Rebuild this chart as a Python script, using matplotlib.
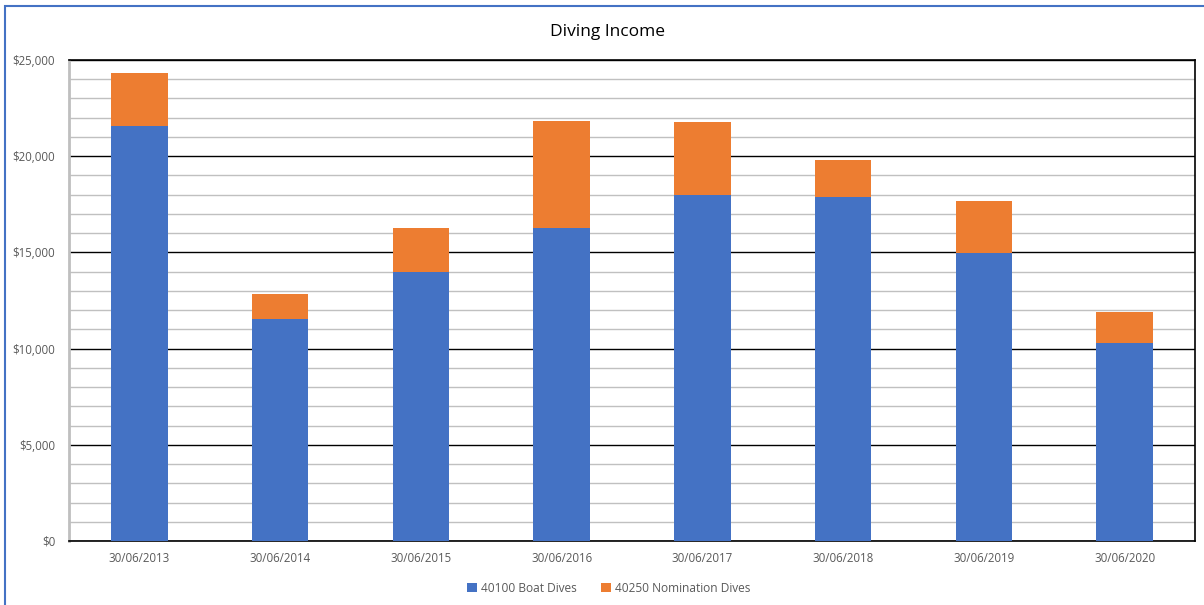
import matplotlib.pyplot as plt
from matplotlib.ticker import MultipleLocator, FuncFormatter
from matplotlib.patches import Rectangle
import numpy as np

categories = ["30/06/2013", "30/06/2014", "30/06/2015", "30/06/2016",
              "30/06/2017", "30/06/2018", "30/06/2019", "30/06/2020"]
boat_dives = [21550, 11550, 13980, 16250, 18000, 17900, 14950, 10300]
totals = [24300, 12850, 16250, 21850, 21800, 19800, 17650, 11920]
nomination_dives = [t - b for t, b in zip(totals, boat_dives)]

plt.rcParams['font.family'] = ['Open Sans', 'DejaVu Sans']

fig = plt.figure(figsize=(12.04, 6.05), dpi=100)
ax = fig.add_axes([69/1204, 1 - 541/605, (1195-69)/1204, (541-60)/605])

x = np.arange(len(categories))
ax.bar(x, boat_dives, width=0.4, color="#4472C4", label="40100 Boat Dives", zorder=3)
ax.bar(x, nomination_dives, width=0.4, bottom=boat_dives, color="#ED7D31",
       label="40250 Nomination Dives", zorder=3)

ax.set_xlim(-0.5, len(categories) - 0.5)
ax.set_ylim(0, 25000)
ax.yaxis.set_major_locator(MultipleLocator(5000))
ax.yaxis.set_minor_locator(MultipleLocator(1000))
ax.yaxis.set_major_formatter(FuncFormatter(lambda v, p: "${:,.0f}".format(v)))
ax.grid(which="minor", axis="y", color="#C0C0C0", linewidth=1, zorder=0)
ax.grid(which="major", axis="y", color="black", linewidth=1, zorder=1)
ax.set_xticks(x)
ax.set_xticklabels(categories)
ax.tick_params(axis="both", which="both", length=0, labelsize=8.3, colors="#595959")
ax.tick_params(axis="x", pad=8)
ax.tick_params(axis="y", pad=10)

for s in ["top", "right", "bottom"]:
    ax.spines[s].set_color("black")
    ax.spines[s].set_linewidth(1.2)
ax.spines["left"].set_color("#BFBFBF")
ax.spines["left"].set_linewidth(2)

fig.text(608/1204, 1 - 32/605, "Diving Income", ha="center", va="center",
         fontsize=12.5, color="black")

fig.legend(loc="center", bbox_to_anchor=(609/1204, 1 - 588/605), ncol=2,
           frameon=False, fontsize=8.6, handlelength=0.8, handleheight=0.8,
           columnspacing=2.0, handletextpad=0.4, labelcolor="#595959")

fig.patches.append(Rectangle((5/1204, -0.1), 1.2, (605 - 6)/605 + 0.1,
                             transform=fig.transFigure, fill=False,
                             edgecolor="#4472C4", linewidth=1.5))

fig.savefig("out.png", dpi=100)
